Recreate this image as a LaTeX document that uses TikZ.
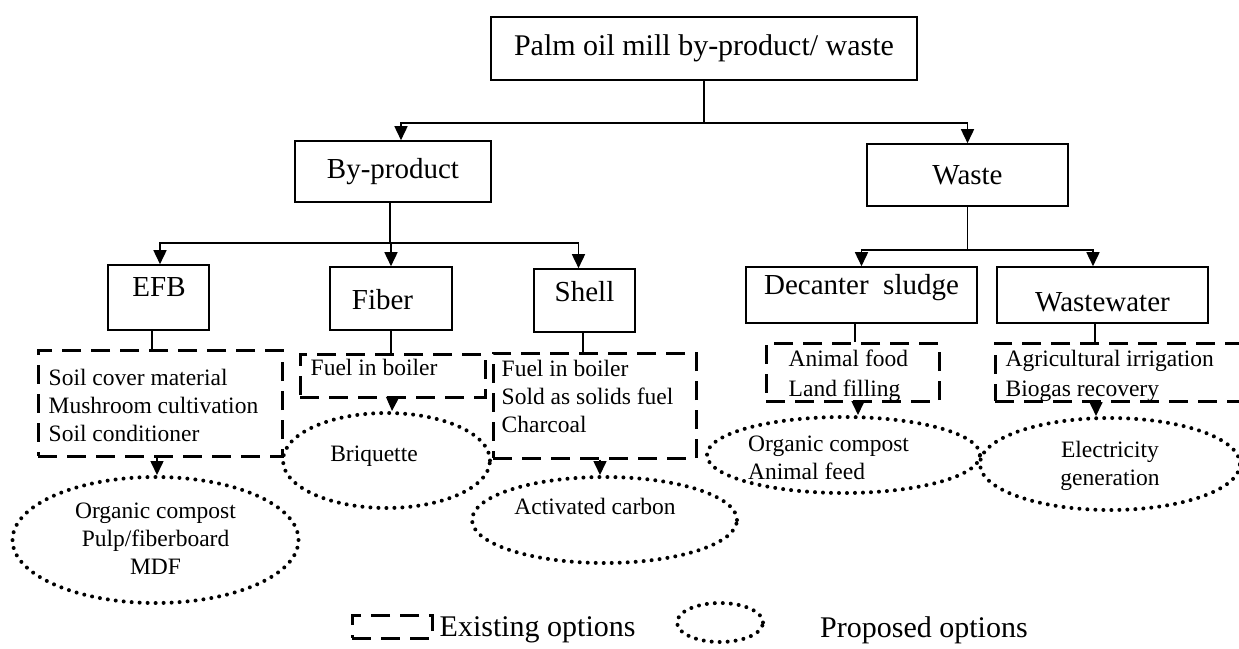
\documentclass[tikz,border=0pt]{standalone}
\usepackage{fontspec}
\setmainfont{Liberation Serif}
\usetikzlibrary{arrows.meta,shapes.geometric}
\tikzset{
  bx/.style={draw, line width=1.6pt, rectangle, inner sep=0pt},
  ex/.style={draw, line width=3pt, dash pattern=on 19pt off 10pt, rectangle, inner sep=0pt},
  pr/.style={draw, ellipse, line width=4pt, dash pattern=on 0pt off 8pt, line cap=round, inner sep=0pt},
  bigtxt/.style={font=\fontsize{29}{34}\selectfont, inner sep=0pt},
  legtxt/.style={font=\fontsize{30}{36}\selectfont, inner sep=0pt},
  smtxt/.style={font=\fontsize{23.5}{28}\selectfont, align=left, inner sep=0pt},
  smtxtw/.style={font=\fontsize{23.5}{30}\selectfont, align=left, inner sep=0pt},
  ctrtxt/.style={font=\fontsize{23.5}{28}\selectfont, align=center, inner sep=0pt},
  conn/.style={line width=1.6pt},
  arr/.style={line width=1.6pt, -{Triangle[length=14pt,width=13pt]}},
}
\begin{document}
\begin{tikzpicture}[x=1pt,y=-1pt]
\useasboundingbox (0,0) rectangle (1239,648);
\fill[white] (0,0) rectangle (1239,648);
\clip (0,0) rectangle (1239,648);

% main boxes
\node[bx, minimum width=426pt, minimum height=63pt, font=\fontsize{30}{36}\selectfont] (top) at (704,48.5) {Palm oil mill by-product/ waste};
\node[bx, bigtxt, minimum width=196pt, minimum height=61pt] (byp) at (393,171.5) {By-product};
\node[bx, bigtxt, minimum width=201pt, minimum height=62pt] (waste) at (967.5,175) {Waste};
\node[bx, minimum width=101pt, minimum height=65pt, label={[bigtxt, anchor=center, xshift=0.5pt, yshift=10.5pt]center:EFB}] (efb) at (158.5,297.5) {};
\node[bx, minimum width=122pt, minimum height=63pt, label={[bigtxt, anchor=center, xshift=-8.5pt, yshift=-1.5pt]center:Fiber}] (fiber) at (391,298.5) {};
\node[bx, minimum width=101pt, minimum height=63pt, label={[bigtxt, anchor=center, yshift=8.5pt]center:Shell}] (shell) at (584.5,300.5) {};
\node[bx, minimum width=231pt, minimum height=56pt, label={[bigtxt, anchor=center, yshift=7pt]center:Decanter\ \ sludge}] (dec) at (861.5,295) {};
\node[bx, minimum width=211pt, minimum height=56pt, label={[bigtxt, anchor=center, yshift=-7pt]center:Wastewater}] (ww) at (1102.5,295) {};

% existing options (dashed)
\node[ex, minimum width=244pt, minimum height=106pt, label={[smtxt, anchor=west, xshift=12pt, yshift=-2pt]west:Soil cover material\\Mushroom cultivation\\Soil conditioner}] (efbd) at (160,403) {};
\node[ex, minimum width=185pt, minimum height=43pt, label={[smtxt, anchor=west, xshift=12pt, yshift=8pt]west:Fuel in boiler}] (fibd) at (392.5,375.5) {};
\node[ex, minimum width=203pt, minimum height=105pt, label={[smtxt, anchor=west, xshift=10pt, yshift=9.5pt]west:Fuel in boiler\\Sold as solids fuel\\Charcoal}] (shelld) at (594.5,405.5) {};
\node[ex, minimum width=173pt, minimum height=58pt, label={[smtxtw, anchor=west, xshift=24pt, yshift=-4pt]west:Animal food\\Land filling}] (decd) at (852.5,372) {};
\node[ex, minimum width=255pt, minimum height=58pt, label={[smtxtw, anchor=west, xshift=12pt, yshift=-4pt]west:Agricultural irrigation\\Biogas recovery}] (wwd) at (1122.5,372) {};

% proposed options (dotted)
\node[pr, minimum width=286pt, minimum height=126pt, label={[ctrtxt, anchor=center, yshift=1pt]center:Organic compost\\Pulp/fiberboard\\MDF}] (e1) at (155.5,540) {};
\node[pr, minimum width=207pt, minimum height=95pt, label={[ctrtxt, anchor=center, xshift=-12.5pt, yshift=4pt]center:Briquette}] (e2) at (386.5,460.5) {};
\node[pr, minimum width=265pt, minimum height=86pt, label={[ctrtxt, anchor=center, xshift=-9.5pt, yshift=13.5pt]center:Activated carbon}] (e3) at (604.5,520) {};
\node[pr, minimum width=273pt, minimum height=76pt, label={[smtxt, anchor=west, xshift=43pt, yshift=-3pt]west:Organic compost\\Animal feed}] (e4) at (843.5,455) {};
\node[pr, minimum width=260pt, minimum height=92pt, label={[ctrtxt, anchor=center, yshift=-2pt]center:Electricity\\generation}] (e5) at (1110,464) {};

% legend
\node[ex, minimum width=80pt, minimum height=23pt, label={[legtxt, anchor=west, xshift=6pt, yshift=-3.5pt]east:Existing options}] (legex) at (392,626.5) {};
\node[pr, minimum width=86pt, minimum height=39pt, label={[legtxt, anchor=west, xshift=55pt, yshift=-7.5pt]east:Proposed options}] (legpr) at (720,622.5) {};

% tree connectors
\coordinate (j1) at (704,123);
\draw[conn] (top.south) -- (j1);
\draw[arr] (j1) -| ([xshift=8pt]byp.north);
\draw[arr] (j1) -| (waste.north);

\coordinate (j2) at (390,243);
\draw[conn] ([xshift=-3pt]byp.south) -- (j2);
\draw[arr] (j2) -| ([xshift=1.5pt]efb.north);
\draw[arr] (j2) -| (fiber.north);
\draw[arr] (j2) -| ([xshift=-6pt]shell.north);

\coordinate (j3) at (967.5,250);
\draw[conn] (waste.south) -- (j3);
\draw[arr] (j3) -| (dec.north);
\draw[arr] (j3) -| ([xshift=-9.5pt]ww.north);

% box -> existing
\draw[conn] ([xshift=-6.5pt]efb.south) -- ([xshift=-8pt]efbd.north);
\draw[conn] (fiber.south) -- ([xshift=-1.5pt]fibd.north);
\draw[conn] ([xshift=-1.5pt]shell.south) -- ([xshift=-11.5pt]shelld.north);
\draw[conn] ([xshift=-6.5pt]dec.south) -- ([xshift=2.5pt]decd.north);
\draw[conn] ([xshift=-7.5pt]ww.south) -- ([xshift=-27.5pt]wwd.north);

% existing -> proposed
\draw[arr] ([xshift=-3pt]efbd.south) -- ([xshift=1.5pt]e1.north);
\draw[arr] (fibd.south) -- ([xshift=5.5pt]e2.north);
\draw[arr] ([xshift=5.5pt]shelld.south) -- ([xshift=-4.5pt]e3.north);
\draw[arr] ([xshift=5.5pt]decd.south) -- ([xshift=14.5pt]e4.north);
\draw[arr] ([xshift=-26.5pt]wwd.south) -- ([xshift=-14pt]e5.north);
\end{tikzpicture}
\end{document}
